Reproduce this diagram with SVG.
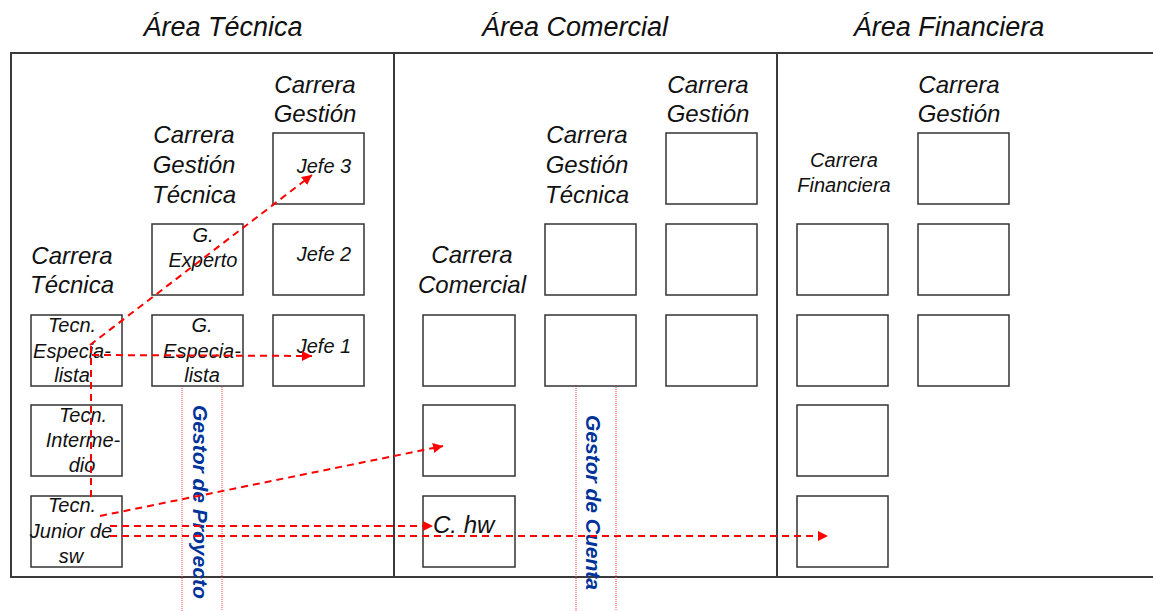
<svg xmlns="http://www.w3.org/2000/svg" width="1153" height="611" viewBox="0 0 1153 611">
<style>
.frame{fill:none;stroke:#3a3a3a;stroke-width:2}
.box{fill:#fff;stroke:#333;stroke-width:1.5}
.h{font-family:"Liberation Sans",Arial,sans-serif;font-style:italic;font-size:27px;fill:#111;text-anchor:middle}
.c{font-family:"Liberation Sans",Arial,sans-serif;font-style:italic;font-size:24px;fill:#111;text-anchor:middle}
.cs{font-family:"Liberation Sans",Arial,sans-serif;font-style:italic;font-size:20px;fill:#111;text-anchor:middle}
.t{font-family:"Liberation Sans",Arial,sans-serif;font-style:italic;font-size:20px;fill:#111;text-anchor:middle}
.b{font-family:"Liberation Sans",Arial,sans-serif;font-style:italic;font-weight:bold;font-size:21px;fill:#003399}
.dot{fill:none;stroke:#ff4040;stroke-width:1;stroke-dasharray:1,1}
.arr{fill:none;stroke:#ff0000;stroke-width:2;stroke-dasharray:7,5}
</style>
<defs>
<marker id="ah" viewBox="0 0 10 10" refX="10" refY="5" markerWidth="5" markerHeight="5" orient="auto" markerUnits="strokeWidth">
<path d="M0,0 L10,5 L0,10 Z" fill="#ff0000"/>
</marker>
</defs>
<rect width="1153" height="611" fill="#fff"/>

<g id="frame">
<path class="frame" d="M1153,53 H11 V577 H1153"/>
<line class="frame" x1="394" y1="53" x2="394" y2="577"/>
<line class="frame" x1="777" y1="53" x2="777" y2="577"/>
</g>

<g id="headers">
<text class="h" x="223" y="36">Área Técnica</text>
<text class="h" x="575" y="36">Área Comercial</text>
<text class="h" x="949" y="36">Área Financiera</text>
</g>

<g id="dotted-bands">
<rect class="dot" x="182" y="385" width="40" height="230"/>
<rect class="dot" x="576" y="385" width="40" height="230"/>
<text class="b" transform="translate(193,405) rotate(90)">Gestor de Proyecto</text>
<text class="b" transform="translate(586,415) rotate(90)">Gestor de Cuenta</text>
</g>

<g id="labels">
<text class="c" x="72" y="264">Carrera</text>
<text class="c" x="72" y="293">Técnica</text>
<text class="c" x="194" y="143">Carrera</text>
<text class="c" x="194" y="173">Gestión</text>
<text class="c" x="194" y="203">Técnica</text>
<text class="c" x="315" y="93">Carrera</text>
<text class="c" x="315" y="122">Gestión</text>
<text class="c" x="472" y="263">Carrera</text>
<text class="c" x="472" y="293">Comercial</text>
<text class="c" x="587" y="143">Carrera</text>
<text class="c" x="587" y="173">Gestión</text>
<text class="c" x="587" y="203">Técnica</text>
<text class="c" x="708" y="93">Carrera</text>
<text class="c" x="708" y="122">Gestión</text>
<text class="cs" x="844" y="167">Carrera</text>
<text class="cs" x="844" y="192">Financiera</text>
<text class="c" x="959" y="93">Carrera</text>
<text class="c" x="959" y="122">Gestión</text>
</g>

<g id="n-jefe3"><rect class="box" x="273" y="133" width="91" height="71"/><text class="t" x="324" y="173">Jefe 3</text></g>
<g id="n-jefe2"><rect class="box" x="273" y="224" width="91" height="71"/><text class="t" x="324" y="261">Jefe 2</text></g>
<g id="n-jefe1"><rect class="box" x="273" y="315" width="91" height="71"/><text class="t" x="324" y="353">Jefe 1</text></g>
<g id="n-gexperto"><rect class="box" x="152" y="224" width="91" height="71"/><text class="t" x="203" y="242">G.</text><text class="t" x="203" y="267">Experto</text></g>
<g id="n-gespecialista"><rect class="box" x="152" y="315" width="91" height="71"/><text class="t" x="202" y="332">G.</text><text class="t" x="202" y="358">Especia-</text><text class="t" x="202" y="382">lista</text></g>
<g id="n-tespecialista"><rect class="box" x="31" y="315" width="91" height="71"/><text class="t" x="72" y="332">Tecn.</text><text class="t" x="72" y="358">Especia-</text><text class="t" x="72" y="382">lista</text></g>
<g id="n-tintermedio"><rect class="box" x="31" y="405" width="91" height="71"/><text class="t" x="83" y="422">Tecn.</text><text class="t" x="83" y="447">Interme-</text><text class="t" x="82" y="472">dio</text></g>
<g id="n-tjunior"><rect class="box" x="31" y="496" width="91" height="71"/><text class="t" x="72" y="512">Tecn.</text><text class="t" x="71" y="538">Junior de</text><text class="t" x="71" y="563">sw</text></g>

<g id="n-com-1"><rect class="box" x="423" y="315" width="92" height="71"/></g>
<g id="n-com-2"><rect class="box" x="423" y="405" width="92" height="71"/></g>
<g id="n-com-hw"><rect class="box" x="423" y="496" width="92" height="71"/><text class="c" x="433" y="533" style="text-anchor:start">C. hw</text></g>
<g id="n-comgt-1"><rect class="box" x="545" y="224" width="91" height="71"/></g>
<g id="n-comgt-2"><rect class="box" x="545" y="315" width="91" height="71"/></g>
<g id="n-comg-1"><rect class="box" x="666" y="133" width="91" height="71"/></g>
<g id="n-comg-2"><rect class="box" x="666" y="224" width="91" height="71"/></g>
<g id="n-comg-3"><rect class="box" x="666" y="315" width="91" height="71"/></g>

<g id="n-fin-1"><rect class="box" x="797" y="224" width="91" height="71"/></g>
<g id="n-fin-2"><rect class="box" x="797" y="315" width="91" height="71"/></g>
<g id="n-fin-3"><rect class="box" x="797" y="405" width="91" height="71"/></g>
<g id="n-fin-4"><rect class="box" x="797" y="496" width="91" height="71"/></g>
<g id="n-fing-1"><rect class="box" x="918" y="133" width="91" height="71"/></g>
<g id="n-fing-2"><rect class="box" x="918" y="224" width="91" height="71"/></g>
<g id="n-fing-3"><rect class="box" x="918" y="315" width="91" height="71"/></g>

<g id="connectors">
<line class="arr" x1="91" y1="497" x2="91" y2="343"/>
<line class="arr" x1="90" y1="345" x2="312" y2="175" marker-end="url(#ah)"/>
<line class="arr" x1="92" y1="355" x2="312" y2="356" marker-end="url(#ah)"/>
<line class="arr" x1="100" y1="516" x2="443" y2="446" marker-end="url(#ah)"/>
<line class="arr" x1="110" y1="526" x2="433" y2="526" marker-end="url(#ah)"/>
<line class="arr" x1="110" y1="536" x2="828" y2="536" marker-end="url(#ah)"/>
</g>
</svg>
